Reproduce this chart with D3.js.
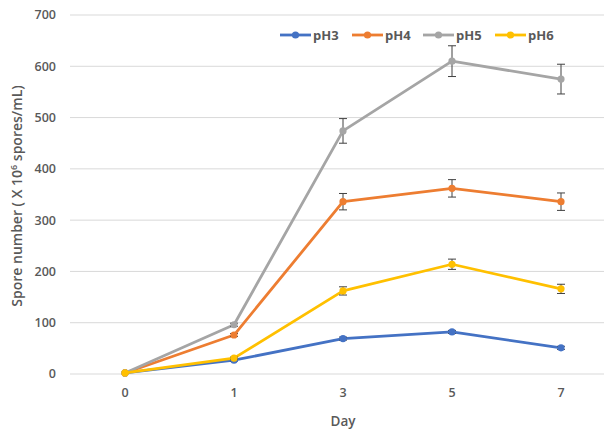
<!DOCTYPE html>
<html><head><meta charset="utf-8">
<script src="https://cdn.jsdelivr.net/npm/d3@7"></script>
<style>body{margin:0;background:#fff}svg{display:block}</style>
</head><body>
<svg id="c" width="604" height="430"></svg>
<script>
const days = ["0","1","3","5","7"];
const seriesNames = ["pH3","pH4","pH5","pH6"];
const colors = ["#4472C4","#ED7D31","#A5A5A5","#FFC000"];
const pH3 = [2, 27, 69, 82, 51];
const pH4 = [2, 76, 336, 362, 336];
const pH5 = [2, 96, 474, 610, 575];
const pH6 = [2, 31, 162, 214, 166];
const pH3err = [0, 2, 3, 3, 3];
const pH4err = [0, 3, 16, 17, 17];
const pH5err = [0, 3, 24, 30, 29];
const pH6err = [0, 2, 8, 10, 9];
const yTicks = [0,100,200,300,400,500,600,700];

const values = [pH3,pH4,pH5,pH6];
const errs = [pH3err,pH4err,pH5err,pH6err];

const svg = d3.select("#c");
const font = "'Open Sans', 'Liberation Sans', sans-serif";
const x = d3.scaleBand().domain(days).range([70.5, 615.5]);
const y = d3.scaleLinear().domain([0,700]).range([374, 15]);
const cx = d => x(d) + x.bandwidth()/2;

// gridlines
svg.append("g").selectAll("line").data(yTicks).join("line")
  .attr("x1", 70).attr("x2", 604)
  .attr("y1", d => y(d)).attr("y2", d => y(d))
  .attr("stroke", "#d9d9d9").attr("stroke-width", 1);

// y tick labels
svg.append("g").selectAll("text").data(yTicks).join("text")
  .attr("x", 56).attr("y", d => y(d)).attr("dy", "0.35em")
  .attr("text-anchor", "end").attr("font-family", font).attr("font-size", 12.5)
  .attr("font-weight", 600).attr("fill", "#595959").text(d => d);

// x tick labels
svg.append("g").selectAll("text").data(days).join("text")
  .attr("x", d => cx(d)).attr("y", 397)
  .attr("text-anchor", "middle").attr("font-family", font).attr("font-size", 12.5)
  .attr("font-weight", 600).attr("fill", "#595959").text(d => d);

// axis titles
svg.append("text").attr("x", 343).attr("y", 426).attr("text-anchor", "middle")
  .attr("font-family", font).attr("font-size", 13.5).attr("font-weight", 600)
  .attr("fill", "#595959").text("Day");
const yt = svg.append("text").attr("transform", "translate(22,196) rotate(-90)")
  .attr("text-anchor", "middle").attr("font-family", font).attr("font-size", 14)
  .attr("font-weight", 600).attr("fill", "#595959");
yt.append("tspan").text("Spore number ( X 10");
yt.append("tspan").attr("font-size", 9).attr("dy", -5).text("6");
yt.append("tspan").attr("dy", 5).text(" spores/mL)");

const line = d3.line().x((d,i) => cx(days[i])).y(d => y(d));

values.forEach((vals, s) => {
  const g = svg.append("g");
  g.append("path").datum(vals).attr("d", line).attr("fill", "none")
    .attr("stroke", colors[s]).attr("stroke-width", 2.8).attr("stroke-linejoin", "round");
  const eb = g.append("g").selectAll("g").data(vals.map((v,i)=>({v, e: errs[s][i], d: days[i]})).filter(o => o.e > 0)).join("g");
  eb.append("line").attr("x1", o => cx(o.d)).attr("x2", o => cx(o.d))
    .attr("y1", o => y(o.v + o.e)).attr("y2", o => y(o.v - o.e)).attr("stroke", "#404040").attr("stroke-width", 1);
  eb.append("line").attr("x1", o => cx(o.d)-4).attr("x2", o => cx(o.d)+4)
    .attr("y1", o => y(o.v + o.e)).attr("y2", o => y(o.v + o.e)).attr("stroke", "#404040").attr("stroke-width", 1);
  eb.append("line").attr("x1", o => cx(o.d)-4).attr("x2", o => cx(o.d)+4)
    .attr("y1", o => y(o.v - o.e)).attr("y2", o => y(o.v - o.e)).attr("stroke", "#404040").attr("stroke-width", 1);
  g.append("g").selectAll("circle").data(vals).join("circle")
    .attr("cx", (d,i) => cx(days[i])).attr("cy", d => y(d)).attr("r", 3.6)
    .attr("fill", colors[s]);
});

// legend
const legX = [280, 352, 423, 495];
seriesNames.forEach((n, s) => {
  const g = svg.append("g").attr("transform", `translate(${legX[s]},35)`);
  g.append("line").attr("x1", 0).attr("x2", 31).attr("y1", 0).attr("y2", 0)
    .attr("stroke", colors[s]).attr("stroke-width", 2.8);
  g.append("circle").attr("cx", 15.5).attr("cy", 0).attr("r", 3.6).attr("fill", colors[s]);
  g.append("text").attr("x", 33).attr("y", 0).attr("dy", "0.35em")
    .attr("font-family", font).attr("font-size", 13).attr("font-weight", 700)
    .attr("fill", "#595959").text(n);
});
</script>
</body></html>
